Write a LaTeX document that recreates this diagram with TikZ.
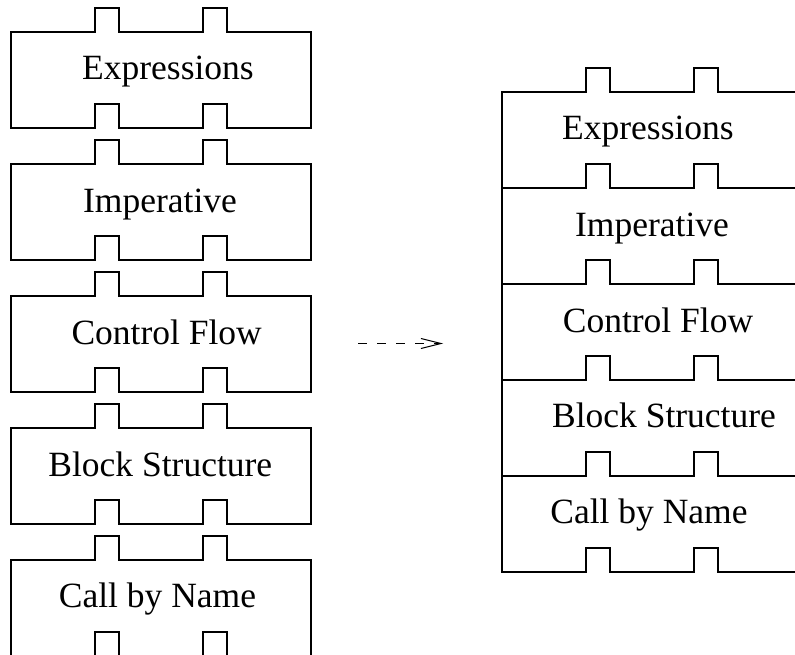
\documentclass[tikz,border=0pt]{standalone}
\usepackage{fontspec}
\setmainfont{Liberation Serif}
\usetikzlibrary{arrows.meta}

\tikzset{
  outline/.style={line width=1.1pt, line join=miter},
  brick/.pic={
    % one puzzle piece: two tabs on top, two notches underneath
    \draw[outline] (0,0) -- (84,0) -- (84,-24) -- (108,-24) -- (108,0)
      -- (192,0) -- (192,-24) -- (216,-24) -- (216,0) -- (300,0)
      -- (300,96) -- (216,96) -- (216,72) -- (192,72) -- (192,96)
      -- (108,96) -- (108,72) -- (84,72) -- (84,96) -- (0,96) -- cycle;
  },
  tag/.style={font=\fontsize{35.5}{40}\selectfont, anchor=base, inner sep=0pt},
  flow/.style={line width=1pt, dash pattern=on 9pt off 10pt,
    -{Straight Barb[length=20pt, width=10pt, line width=1pt]}}
}

\begin{document}
\begin{tikzpicture}[x=1pt, y=-1pt]
  \useasboundingbox (0,0) rectangle (795,655);
  \clip (0,0) rectangle (795,655);

  % separate pieces
  \pic (l1) at (11,32)  {brick};
  \pic (l2) at (11,164) {brick};
  \pic (l3) at (11,296) {brick};
  \pic (l4) at (11,428) {brick};
  \pic (l5) at (11,560) {brick};

  \node[tag] (tl1) at (168,80)    {Expressions};
  \node[tag] (tl2) at (160,212.3) {Imperative};
  \node[tag] (tl3) at (166.7,344) {Control Flow};
  \node[tag] (tl4) at (160.3,476.5) {Block Structure};
  \node[tag] (tl5) at (157.5,607.5) {Call by Name};

  % assembled stack
  \pic (r1) at (502,92)  {brick};
  \pic (r2) at (502,188) {brick};
  \pic (r3) at (502,284) {brick};
  \pic (r4) at (502,380) {brick};
  \pic (r5) at (502,476) {brick};

  \node[tag] (tr1) at (648,139.5) {Expressions};
  \node[tag] (tr2) at (652,236.5) {Imperative};
  \node[tag] (tr3) at (658,332.7) {Control Flow};
  \node[tag] (tr4) at (664,427.3) {Block Structure};
  \node[tag] (tr5) at (649,523.5) {Call by Name};

  % assembling arrow
  \coordinate (arrS) at (358,343.5);
  \coordinate (arrE) at (443,343.5);
  \draw[flow] (arrS) -- (arrE);
\end{tikzpicture}
\end{document}
